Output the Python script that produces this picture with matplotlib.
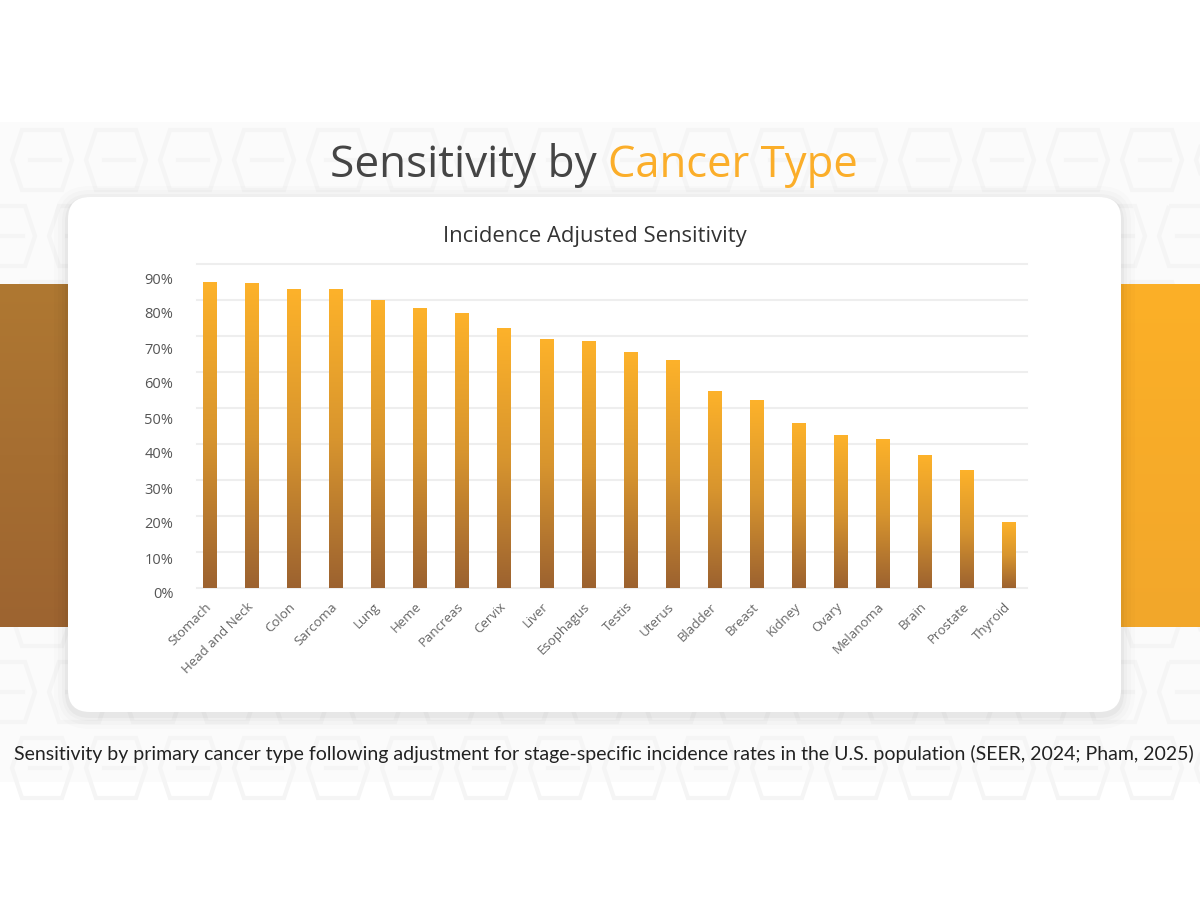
import numpy as np
import matplotlib.pyplot as plt
import matplotlib.transforms as mtransforms
from matplotlib.patches import FancyBboxPatch, Rectangle, Polygon
from matplotlib.colors import LinearSegmentedColormap

# Data.
cancer_types = ["Stomach", "Head and Neck", "Colon", "Sarcoma", "Lung", "Heme",
                "Pancreas", "Cervix", "Liver", "Esophagus", "Testis", "Uterus",
                "Bladder", "Breast", "Kidney", "Ovary", "Melanoma", "Brain",
                "Prostate", "Thyroid"]
sensitivity = [85.0, 84.7, 83.0, 83.0, 79.9, 77.7, 76.3, 72.0, 69.1, 68.4,
               65.3, 63.3, 54.6, 52.1, 45.7, 42.4, 41.2, 36.9, 32.7, 18.1]
y_ticks = [0, 10, 20, 30, 40, 50, 60, 70, 80, 90]

plt.rcParams['font.family'] = ['Open Sans', 'DejaVu Sans']

W, H = 1200, 900
fig = plt.figure(figsize=(12, 9), dpi=100)
fig.patch.set_facecolor('white')

# Background layer in pixel coordinates.
bg = fig.add_axes([0, 0, 1, 1])
bg.set_xlim(0, W)
bg.set_ylim(H, 0)
bg.axis('off')

# Very faint patterned band.
bg.add_patch(Rectangle((0, 122), W, 660, facecolor='#FBFBFB', edgecolor='none', zorder=0))
for r in range(9):
    y0 = 122 + r * 76
    for c in range(-1, 18):
        x0 = c * 74 + (r % 2) * 37
        hexagon = [(x0 + 22, y0 + 8), (x0 + 62, y0 + 8), (x0 + 72, y0 + 38),
                   (x0 + 62, y0 + 68), (x0 + 22, y0 + 68), (x0 + 12, y0 + 38)]
        bg.add_patch(Polygon(hexagon, closed=True, fill=False, edgecolor='#F5F5F5',
                             lw=3, zorder=0.5))
        bg.plot([x0 + 30, x0 + 60], [y0 + 38, y0 + 38], color='#F5F5F5', lw=3, zorder=0.5)

# Side colour blocks with vertical gradients.
grad = np.linspace(0, 1, 256).reshape(-1, 1)
left_cmap = LinearSegmentedColormap.from_list('lb', ['#AF7832', '#9D6430'])
right_cmap = LinearSegmentedColormap.from_list('rb', ['#FCB027', '#F2A72B'])
bg.imshow(grad, extent=(0, 70, 627, 284), cmap=left_cmap, aspect='auto', zorder=1)
bg.imshow(grad, extent=(1118, 1200, 627, 284), cmap=right_cmap, aspect='auto', zorder=1)
bg.set_xlim(0, W)
bg.set_ylim(H, 0)

# White card with a soft shadow.
for k, a in [(14, 0.012), (10, 0.015), (6, 0.02), (3, 0.03)]:
    bg.add_patch(FancyBboxPatch((68 - k, 197 - k + 3), 1053 + 2 * k, 515 + 2 * k,
                                boxstyle='round,pad=0,rounding_size=%d' % (22 + k),
                                facecolor='black', edgecolor='none', alpha=a, zorder=2))
bg.add_patch(FancyBboxPatch((68, 197), 1053, 515, boxstyle='round,pad=0,rounding_size=22',
                            facecolor='white', edgecolor='none', zorder=3))

renderer = fig.canvas.get_renderer()


def fit_text(ax, x, y, s, width, size, **kw):
    # Scale the font so the text spans the wanted pixel width.
    t = ax.text(x, y, s, fontsize=size, zorder=5, **kw)
    w = t.get_window_extent(renderer).width
    t.set_fontsize(size * width / w)
    return t


fit_text(bg, 597, 177, 'Sensitivity by', 267, 30, ha='right', va='baseline', color='#454545')
fit_text(bg, 608, 177, 'Cancer Type', 250, 30, ha='left', va='baseline', color='#FBAE2A')
fit_text(bg, 595, 242, 'Incidence Adjusted Sensitivity', 300, 13, ha='center',
         va='baseline', color='#333333')
fit_text(bg, 604, 760, 'Sensitivity by primary cancer type following adjustment for '
         'stage-specific incidence rates in the U.S. population (SEER, 2024; Pham, 2025)',
         1172, 12, ha='center', va='baseline', color='#222222', family=['Lato', 'DejaVu Sans'])

# Bar chart.
ax = fig.add_axes([197 / W, 1 - 588 / H, 830 / W, 324 / H])
ax.patch.set_visible(False)
x = np.arange(len(cancer_types))
bw = 0.31
bar_cmap = LinearSegmentedColormap.from_list('bar', ['#9C6230', '#D8952E', '#FDB22A'])
for xi, v in zip(x, sensitivity):
    ax.imshow(grad, extent=(xi - bw / 2, xi + bw / 2, 0, v), origin='lower',
              cmap=bar_cmap, aspect='auto', zorder=3, interpolation='bilinear')

ax.set_xlim(-0.297, 19.43)
ax.set_ylim(0, 90)
ax.set_yticks(y_ticks)
ax.set_yticklabels(['%d%%' % v for v in y_ticks], fontsize=10.5, color='#555555')
ax.yaxis.grid(True, color='#EEEEEE', lw=1.5)
for gl in ax.get_ygridlines():
    gl.set_clip_on(False)
ax.set_axisbelow(True)
ax.set_xticks(x)
ax.set_xticklabels(cancer_types, rotation=45, ha='right', va='center',
                   rotation_mode='anchor', fontsize=9.5, color='#666666')
ax.tick_params(axis='x', length=0, pad=12)
ax.tick_params(axis='y', length=0, pad=17)
for s in ax.spines.values():
    s.set_visible(False)

# The reference draws the y labels slightly below their grid lines.
for lab, v in zip(ax.get_yticklabels(), y_ticks):
    off = mtransforms.ScaledTranslation(0, -(5 + v / 10) / 100, fig.dpi_scale_trans)
    lab.set_transform(lab.get_transform() + off)

fig.savefig('out.png', dpi=100, facecolor='white')
